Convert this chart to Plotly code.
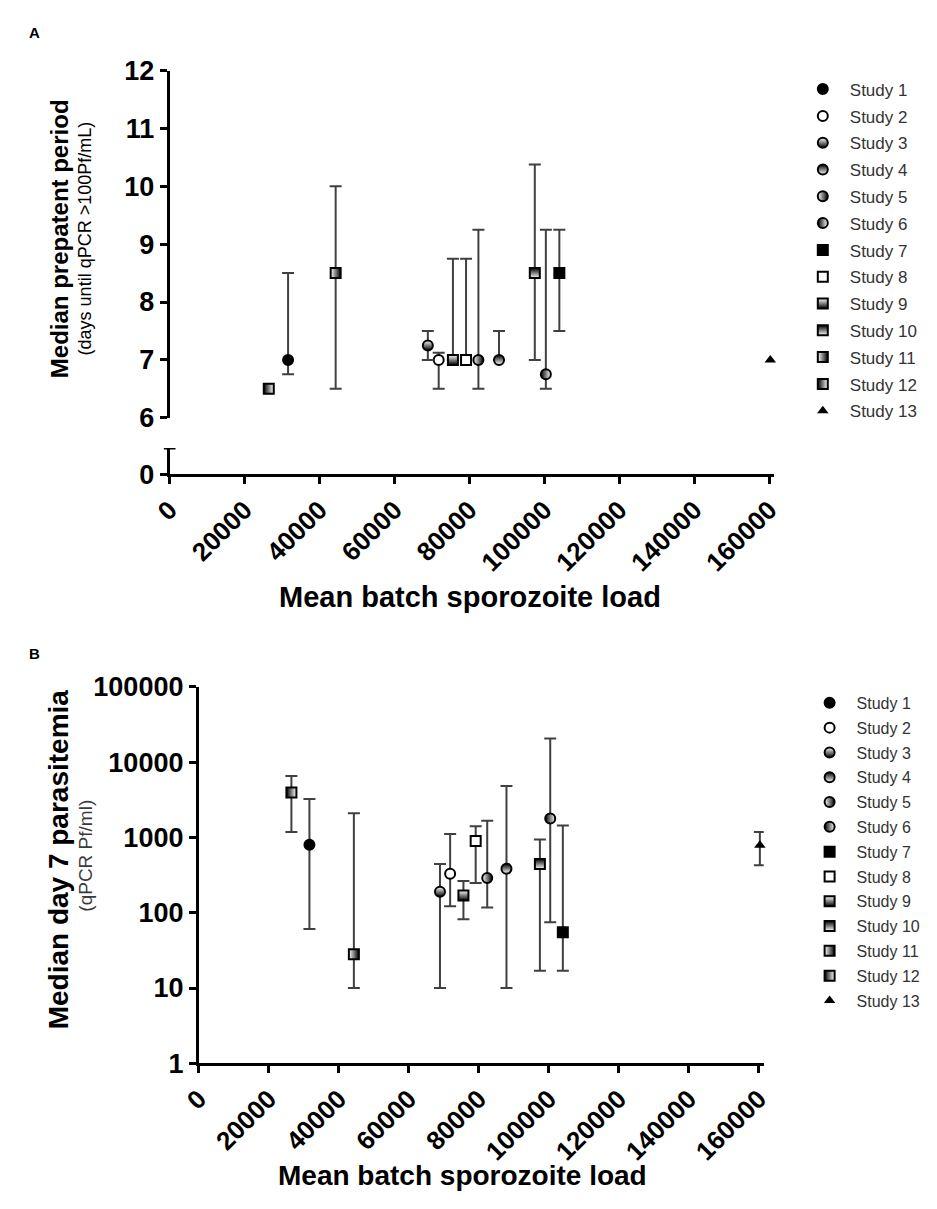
import plotly.graph_objects as go

W, H = 937, 1209

# ---------------- data ----------------
studies = [f"Study {i}" for i in range(1, 14)]
load = [31600, 71800, 68900, 87900, 82400, 100400, 104000, 79100, 75600, 97450, 44300, 26450, 160300]

# Panel A: median prepatent period (days) with range
pre_med = [7.0, 7.0, 7.25, 7.0, 7.0, 6.75, 8.5, 7.0, 7.0, 8.5, 8.5, 6.5, 7.0]
pre_lo = [6.75, 6.5, 7.0, 7.0, 6.5, 6.5, 7.5, 7.0, 7.0, 7.0, 6.5, 6.5, 7.0]
pre_hi = [8.5, 7.125, 7.5, 7.5, 9.25, 9.25, 9.25, 8.75, 8.75, 10.375, 10.0, 6.5, 7.0]

# Panel B: median day 7 parasitemia (qPCR Pf/ml) with range
par_med = [800, 330, 190, 385, 290, 1790, 55, 900, 170, 445, 28, 3950, 790]
par_lo = [61, 122, 10, 10, 117, 75, 17, 248, 82, 17, 10, 1180, 428]
par_hi = [3250, 1110, 445, 4830, 1670, 20600, 1440, 1410, 265, 937, 2100, 6570, 1180]

x_ticks = list(range(0, 160001, 20000))
a_ticks = [6, 7, 8, 9, 10, 11, 12]
b_ticks = [1, 10, 100, 1000, 10000, 100000]

# ---------------- styles ----------------
# (symbol, marker colour, gradient type, gradient colour)
styles = [
    ("circle", "black", None, None),
    ("circle", "white", None, None),
    ("circle", "white", "vertical", "black"),
    ("circle", "black", "vertical", "white"),
    ("circle", "white", "horizontal", "black"),
    ("circle", "black", "horizontal", "white"),
    ("square", "black", None, None),
    ("square", "white", None, None),
    ("square", "white", "vertical", "black"),
    ("square", "black", "vertical", "white"),
    ("square", "white", "horizontal", "black"),
    ("square", "black", "horizontal", "white"),
    ("triangle-up", "black", None, None),
]

FONT = "Liberation Sans, Arial, Helvetica, sans-serif"
ERRC = "#404040"


def fx(px):
    return px / W


def fy(py):
    return 1 - py / H


def marker_for(i):
    sym, col, gt, gc = styles[i]
    m = dict(symbol=sym, color=col, size=10,
             line=dict(color="black", width=2 if sym != "triangle-up" else 0))
    if gt:
        m["gradient"] = dict(type=gt, color=gc)
    return m


fig = go.Figure()

for i, name in enumerate(studies):
    up = pre_hi[i] - pre_med[i]
    dn = pre_med[i] - pre_lo[i]
    fig.add_trace(go.Scatter(
        x=[load[i]], y=[pre_med[i]], mode="markers", name=name,
        marker=marker_for(i), xaxis="x", yaxis="y", legend="legend",
        legendgroup=name, cliponaxis=False,
        error_y=dict(type="data", symmetric=False, array=[up], arrayminus=[dn],
                     color=ERRC, thickness=2, width=6, visible=(up > 0 or dn > 0)),
    ))

for i, name in enumerate(studies):
    fig.add_trace(go.Scatter(
        x=[load[i]], y=[par_med[i]], mode="markers", name=name,
        marker=marker_for(i), xaxis="x2", yaxis="y3", legend="legend2",
        legendgroup=name, cliponaxis=False,
        error_y=dict(type="data", symmetric=False,
                     array=[par_hi[i] - par_med[i]], arrayminus=[par_med[i] - par_lo[i]],
                     color=ERRC, thickness=2, width=6),
    ))

xtickfont = dict(family=FONT, size=26, color="black", weight="bold")
ytickfont = dict(family=FONT, size=27, color="black", weight="bold")
axis_common = dict(showline=True, linecolor="black", linewidth=3, ticks="outside",
                   ticklen=7, tickwidth=3, tickcolor="black", showgrid=False,
                   zeroline=False, fixedrange=True)

fig.update_layout(
    width=W, height=H, margin=dict(l=0, r=0, t=0, b=0),
    paper_bgcolor="white", plot_bgcolor="white",
    font=dict(family=FONT, color="black"),
    xaxis=dict(domain=[fx(156), fx(778)], range=[0, 161400], anchor="y2",
               tickvals=x_ticks, ticktext=[str(v) for v in x_ticks], tickangle=-45,
               tickfont=xtickfont, **axis_common),
    yaxis=dict(domain=[fy(413), fy(57)], range=[6, 12], anchor="x",
               tickvals=a_ticks, ticktext=[str(v) for v in a_ticks],
               tickfont=ytickfont, **axis_common),
    yaxis2=dict(domain=[fy(471), fy(444)], range=[0, 0.44], anchor="x",
                tickvals=[0], ticktext=["0"], tickfont=ytickfont, **axis_common),
    xaxis2=dict(domain=[fx(186), fx(767)], range=[0, 161400], anchor="y3",
                tickvals=x_ticks, ticktext=[str(v) for v in x_ticks], tickangle=-45,
                tickfont=xtickfont, **axis_common),
    yaxis3=dict(domain=[fy(1075), fy(689)], type="log", range=[0, 5], anchor="x2",
                tickvals=b_ticks, ticktext=[str(v) for v in b_ticks],
                tickfont=ytickfont, **axis_common),
    legend=dict(x=fx(800), y=fy(58), xanchor="left", yanchor="top",
                font=dict(family=FONT, size=17, color="#333333"),
                itemwidth=44, tracegroupgap=1.7, bgcolor="rgba(0,0,0,0)",
                itemclick=False, itemdoubleclick=False),
    legend2=dict(x=fx(807), y=fy(688), xanchor="left", yanchor="top",
                 font=dict(family=FONT, size=16, color="#333333"),
                 itemwidth=44, tracegroupgap=1, bgcolor="rgba(0,0,0,0)",
                 itemclick=False, itemdoubleclick=False),
    showlegend=True,
)

# cap at the top of the lower (broken) y segment in panel A
fig.add_shape(type="line", xref="paper", yref="y2", x0=fx(150), x1=fx(162),
              y0=0.44, y1=0.44, line=dict(color="black", width=3))

ann = []
ann.append(dict(text="<b>A</b>", x=fx(9), y=fy(18), xanchor="left", yanchor="middle",
                font=dict(size=15, family=FONT, color="black")))
ann.append(dict(text="<b>B</b>", x=fx(9), y=fy(655), xanchor="left", yanchor="middle",
                font=dict(size=15, family=FONT, color="black")))
ann.append(dict(text="<b>Median prepatent period</b>", x=fx(42), y=fy(229), textangle=-90,
                xanchor="center", yanchor="middle", font=dict(size=24, family=FONT, color="black")))
ann.append(dict(text="(days until qPCR >100Pf/mL)", x=fx(69), y=fy(229), textangle=-90,
                xanchor="center", yanchor="middle", font=dict(size=18, family=FONT, color="black")))
ann.append(dict(text="<b>Mean batch sporozoite load</b>", x=fx(465), y=fy(597),
                xanchor="center", yanchor="middle", font=dict(size=29, family=FONT, color="black")))
ann.append(dict(text="<b>Median day 7 parasitemia</b>", x=fx(42), y=fy(866), textangle=-90,
                xanchor="center", yanchor="middle", font=dict(size=28, family=FONT, color="black")))
ann.append(dict(text="(qPCR Pf/ml)", x=fx(70), y=fy(862), textangle=-90,
                xanchor="center", yanchor="middle", font=dict(size=19, family=FONT, color="#3a3a3a")))
ann.append(dict(text="<b>Mean batch sporozoite load</b>", x=fx(457), y=fy(1190),
                xanchor="center", yanchor="middle", font=dict(size=28, family=FONT, color="black")))
for a in ann:
    a.update(xref="paper", yref="paper", showarrow=False)
fig.update_layout(annotations=ann)

fig.write_html("out.html")
